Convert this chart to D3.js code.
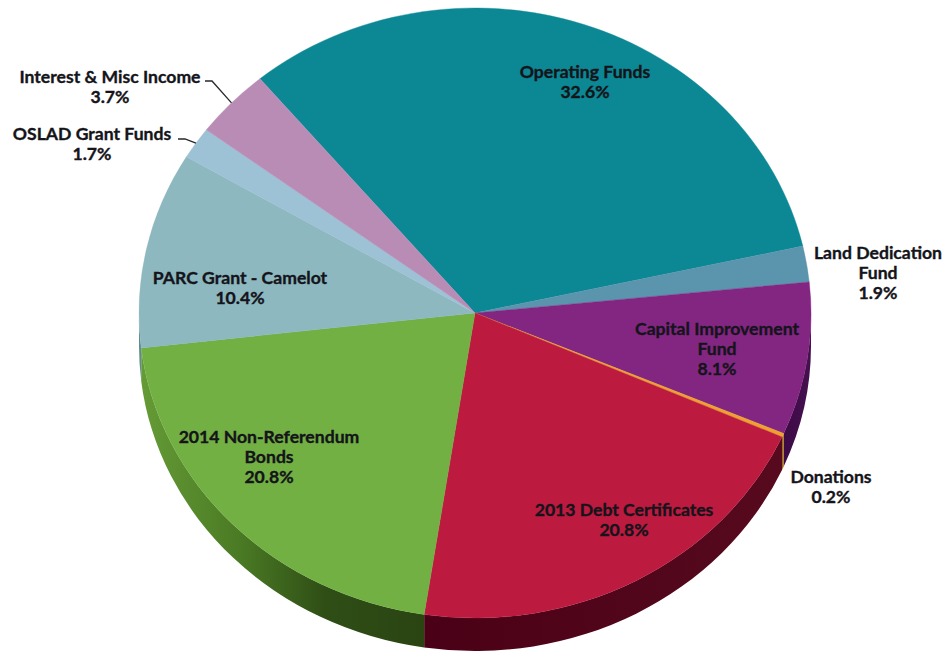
<!DOCTYPE html>
<html>
<head>
<meta charset="utf-8">
<script src="https://cdn.jsdelivr.net/npm/d3@7"></script>
<style>
  html, body { margin: 0; padding: 0; background: #fff; }
  svg { display: block; }
  text { font-family: Lato, "Open Sans", sans-serif; font-weight: 700; font-size: 17.6px; fill: #14141a; text-anchor: middle; stroke: #14141a; stroke-width: 0.35px; }
</style>
</head>
<body>
<script>
// Funding sources, clockwise from the upper-left edge of the pie
const categories = ["Operating Funds", "Land Dedication Fund", "Capital Improvement Fund", "Donations",
  "2013 Debt Certificates", "2014 Non-Referendum Bonds", "PARC Grant - Camelot", "OSLAD Grant Funds", "Interest & Misc Income"];
const shares = [32.6, 1.9, 8.1, 0.2, 20.8, 20.8, 10.4, 1.7, 3.7];

// Label text split into lines
const labelLines = [
  ["Operating Funds"], ["Land Dedication", "Fund"], ["Capital Improvement", "Fund"], ["Donations"],
  ["2013 Debt Certificates"], ["2014 Non-Referendum", "Bonds"], ["PARC Grant - Camelot"], ["OSLAD Grant Funds"], ["Interest & Misc Income"]
];

// Slice colours: top face and the wall gradient (left, right)
const topColors = ["#0c8794", "#5b95ad", "#832682", "#f0a02e", "#bd1a40", "#72b043", "#8db8bf", "#9dc1d5", "#b98cb6"];
const wallColors = [null, null, ["#3c0a45", "#45104f"], ["#a06c18", "#a06c18"], ["#4a0016", "#570a1e"],
  ["#2a4412", "#659b36"], ["#5f8a90", "#5f8a90"], null, null];

// Label anchors: centre x and first baseline
const labelX = [585, 878, 717, 831, 624, 269, 240, 92, 110];
const labelY = [78, 259, 335, 483, 516, 443, 284, 140, 83];
const lineGap = 20;

const width = 947, height = 652;
const cx = 475, cy = 313, rx = 336, ry = 305, depth = 33;
const startDeg = -39.8;

const svg = d3.select("body").append("svg").attr("width", width).attr("height", height);
const defs = svg.append("defs");

const pie = d3.pie().sort(null)
  .startAngle(startDeg * Math.PI / 180)
  .endAngle((startDeg + 360) * Math.PI / 180);
const slices = pie(shares);

const rim = a => [cx + rx * Math.sin(a), cy - ry * Math.cos(a)];

// Extruded wall: only the front half of the rim is visible
const wallPath = (s) => {
  const a0 = Math.max(s.startAngle, Math.PI / 2);
  const a1 = Math.min(s.endAngle, 3 * Math.PI / 2);
  if (a1 <= a0) return null;
  const [x0, y0] = rim(a0), [x1, y1] = rim(a1);
  return `M${x0},${y0}A${rx},${ry} 0 0 1 ${x1},${y1}L${x1},${y1 + depth}A${rx},${ry} 0 0 0 ${x0},${y0 + depth}Z`;
};

const walls = svg.append("g");
slices.forEach((s, i) => {
  const p = wallPath(s);
  if (!p) return;
  const [cA, cB] = wallColors[i];
  const [xa] = rim(Math.max(s.startAngle, Math.PI / 2));
  const [xb] = rim(Math.min(s.endAngle, 3 * Math.PI / 2));
  const g = defs.append("linearGradient").attr("id", "wall" + i)
    .attr("gradientUnits", "userSpaceOnUse")
    .attr("x1", Math.min(xa, xb)).attr("x2", Math.max(xa, xb)).attr("y1", 0).attr("y2", 0);
  // green fades from a lit left edge to a dark front; the others stay dark
  if (i === 5) {
    g.append("stop").attr("offset", 0).attr("stop-color", cB);
    g.append("stop").attr("offset", 0.35).attr("stop-color", "#4a7a24");
    g.append("stop").attr("offset", 0.65).attr("stop-color", "#2f4e16");
    g.append("stop").attr("offset", 1).attr("stop-color", cA);
  } else {
    g.append("stop").attr("offset", 0).attr("stop-color", cA);
    g.append("stop").attr("offset", 1).attr("stop-color", cB);
  }
  walls.append("path").attr("d", p).attr("fill", `url(#wall${i})`);
});

// Top face: a circular arc flattened into an ellipse
const arc = d3.arc().innerRadius(0).outerRadius(rx);
svg.append("g")
  .attr("transform", `translate(${cx},${cy}) scale(1,${ry / rx})`)
  .selectAll("path").data(slices).join("path")
  .attr("d", arc)
  .attr("fill", (d, i) => topColors[i])
  .attr("stroke", (d, i) => topColors[i])
  .attr("stroke-width", 0.4);

// Leader lines for the two narrow slices on the upper left
const leaders = [
  { index: 8, from: [205, 81], elbow: [212, 81] },
  { index: 7, from: [178, 139], elbow: [185, 139] }
];
const line = d3.line();
svg.append("g").selectAll("path").data(leaders).join("path")
  .attr("fill", "none").attr("stroke", "#26262c").attr("stroke-width", 1.3)
  .attr("d", d => {
    const s = slices[d.index];
    return line([d.from, d.elbow, rim((s.startAngle + s.endAngle) / 2)]);
  });

// Labels: name lines followed by the percentage
const labels = svg.append("g").selectAll("text").data(categories).join("text")
  .attr("x", (d, i) => labelX[i])
  .attr("y", (d, i) => labelY[i]);
labels.each(function (d, i) {
  const rows = [...labelLines[i], shares[i].toFixed(1) + "%"];
  d3.select(this).selectAll("tspan").data(rows).join("tspan")
    .attr("x", labelX[i])
    .attr("y", (r, j) => labelY[i] + j * lineGap)
    .text(r => r);
});
</script>
</body>
</html>
